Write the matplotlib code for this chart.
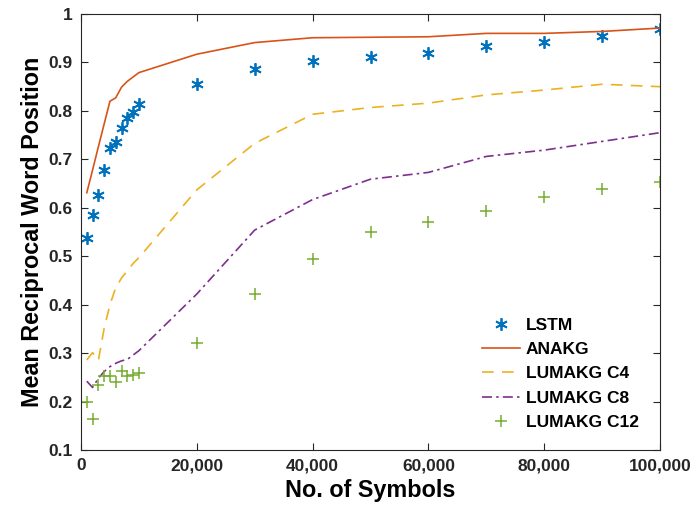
import matplotlib
matplotlib.use("Agg")
import matplotlib.pyplot as plt
from matplotlib.ticker import FuncFormatter

plt.rcParams['font.family'] = ['Liberation Sans', 'DejaVu Sans']

# number of symbols
simbolos = [1000, 2000, 3000, 4000, 5000, 6000, 7000, 8000, 9000, 10000,
            20000, 30000, 40000, 50000, 60000, 70000, 80000, 90000, 100000]

lstm = [0.537, 0.585, 0.626, 0.678, 0.724, 0.736, 0.764, 0.785, 0.798, 0.814,
        0.856, 0.887, 0.904, 0.912, 0.919, 0.934, 0.943, 0.955, 0.969]
anakg = [0.631, 0.678, 0.726, 0.773, 0.820, 0.827, 0.849, 0.861, 0.870, 0.879,
         0.917, 0.941, 0.951, 0.952, 0.953, 0.960, 0.960, 0.964, 0.971]
lumakg_c4 = [0.286, 0.301, 0.285, 0.351, 0.400, 0.435, 0.455, 0.470, 0.485, 0.497,
             0.637, 0.733, 0.793, 0.807, 0.816, 0.833, 0.843, 0.855, 0.850]
lumakg_c8 = [0.242, 0.229, 0.248, 0.262, 0.272, 0.279, 0.284, 0.287, 0.296, 0.305,
             0.422, 0.554, 0.617, 0.659, 0.673, 0.706, 0.719, 0.737, 0.755]
lumakg_c12 = [0.200, 0.164, 0.234, 0.253, 0.253, 0.241, 0.263, 0.253, 0.255, 0.258,
              0.321, 0.422, 0.495, 0.551, 0.571, 0.594, 0.623, 0.638, 0.654]

fig = plt.figure(figsize=(6.96, 5.17), dpi=100)
ax = fig.add_axes([81/696, 1 - 450/517, 579/696, 436/517])

ax.plot(simbolos, lstm, linestyle='none', marker=(6, 2, 0), markersize=9,
        markeredgewidth=1.3, color='#0072BD', label='LSTM')
ax.plot(simbolos, anakg, '-', color='#D95319', linewidth=1.2, label='ANAKG')
ax.plot(simbolos, lumakg_c4, linestyle=(0, (7, 5)), color='#EDB120', linewidth=1.2,
        label='LUMAKG C4')
ax.plot(simbolos, lumakg_c8, linestyle=(0, (6, 2.5, 1.5, 2.5)), color='#7E2F8E',
        linewidth=1.2, label='LUMAKG C8')
ax.plot(simbolos, lumakg_c12, linestyle='none', marker='+', markersize=9,
        markeredgewidth=1.1, color='#77AC30', label='LUMAKG C12')

ax.set_xlim(0, 100000)
ax.set_ylim(0.1, 1.0)
ax.set_xticks([0, 20000, 40000, 60000, 80000, 100000])
ax.set_yticks([0.1, 0.2, 0.3, 0.4, 0.5, 0.6, 0.7, 0.8, 0.9, 1.0])
ax.xaxis.set_major_formatter(FuncFormatter(lambda v, p: '{:,.0f}'.format(v)))
ax.yaxis.set_major_formatter(FuncFormatter(lambda v, p: '1' if abs(v - 1) < 1e-9 else '{:.1f}'.format(v)))

ax.tick_params(direction='in', top=True, right=True, length=5, width=0.8,
               color='#262626', labelcolor='#262626', labelsize=12.5, pad=6)
for lbl in ax.get_xticklabels() + ax.get_yticklabels():
    lbl.set_fontweight('bold')
for s in ax.spines.values():
    s.set_color('#262626')
    s.set_linewidth(0.8)

ax.set_xlabel('No. of Symbols', fontsize=16.8, fontweight='bold', labelpad=4)
ax.set_ylabel('Mean Reciprocal Word Position', fontsize=16.8, fontweight='bold', labelpad=3)

# legenda sem moldura, canto inferior direito
legend = ax.legend(loc='lower right', frameon=False, prop={'size': 12.5, 'weight': 'bold'},
                   handlelength=2.2, handletextpad=0.3, labelspacing=0.53,
                   bbox_to_anchor=(0.99, 0.01))

fig.savefig('out.png', dpi=100)
